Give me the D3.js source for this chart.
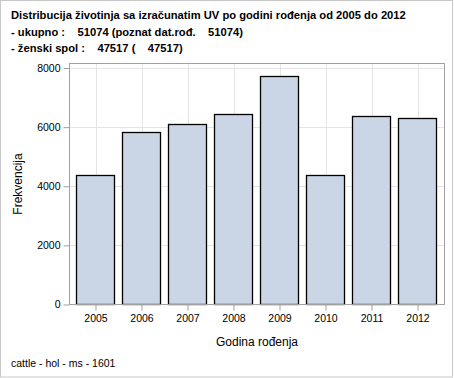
<!DOCTYPE html>
<html>
<head>
<meta charset="utf-8">
<script src="https://cdn.jsdelivr.net/npm/d3@7"></script>
<style>
  body { margin: 0; background: #fff; }
  text { font-family: "Liberation Sans", Arial, sans-serif; fill: #000; }
</style>
</head>
<body>
<div id="chart"></div>
<script>
var titleLines = [
    "Distribucija životinja sa izračunatim UV po godini rođenja od 2005 do 2012",
    "- ukupno :    51074 (poznat dat.rođ.    51074)",
    "- ženski spol :    47517 (    47517)"
];
var years = ["2005", "2006", "2007", "2008", "2009", "2010", "2011", "2012"];
var counts = [4375, 5830, 6100, 6440, 7735, 4375, 6360, 6302];
var yTicks = [0, 2000, 4000, 6000, 8000];
var xTitle = "Godina rođenja";
var yTitle = "Frekvencija";
var footnote = "cattle - hol - ms - 1601";

var W = 454, H = 378;
var plot = { left: 69.5, right: 444.5, top: 63.5, bottom: 304.5 };

var svg = d3.select("#chart").append("svg")
    .attr("width", W)
    .attr("height", H);

// outer border
svg.append("rect")
    .attr("x", 0.5).attr("y", 0.5)
    .attr("width", 452).attr("height", 376.5)
    .attr("fill", "#fff")
    .attr("stroke", "#c8c8c8");

// titles
svg.selectAll(".title")
    .data(titleLines)
    .enter()
    .append("text")
    .attr("class", "title")
    .attr("x", 11)
    .attr("y", function (d, i) { return 19 + i * 16.5; })
    .attr("font-size", "11.2px")
    .attr("font-weight", "bold")
    .style("white-space", "pre")
    .attr("xml:space", "preserve")
    .text(function (d) { return d; });

var x = d3.scaleBand()
    .domain(years)
    .range([plot.left, plot.right])
    .paddingInner(0.152)
    .paddingOuter(0.152);

var y = d3.scaleLinear()
    .domain([0, 8000])
    .range([plot.bottom, 68]);

// grid
var grid = svg.append("g");
grid.selectAll(".hg")
    .data(yTicks.filter(function (d) { return d > 0; }))
    .enter()
    .append("line")
    .attr("x1", plot.left).attr("x2", plot.right)
    .attr("y1", function (d) { return Math.round(y(d)) + 0.5; })
    .attr("y2", function (d) { return Math.round(y(d)) + 0.5; })
    .attr("stroke", "#e4e4e4");
grid.selectAll(".vg")
    .data(years)
    .enter()
    .append("line")
    .attr("x1", function (d) { return Math.round(x(d) + x.bandwidth() / 2) + 0.5; })
    .attr("x2", function (d) { return Math.round(x(d) + x.bandwidth() / 2) + 0.5; })
    .attr("y1", plot.top).attr("y2", plot.bottom)
    .attr("stroke", "#e4e4e4");

// bars
svg.selectAll(".bar")
    .data(counts)
    .enter()
    .append("rect")
    .attr("class", "bar")
    .attr("x", function (d, i) { return Math.round(x(years[i])) + 0.5; })
    .attr("y", function (d) { return Math.round(y(d)) + 0.5; })
    .attr("width", Math.round(x.bandwidth()) - 1)
    .attr("height", function (d) { return plot.bottom - Math.round(y(d)) - 0.5; })
    .attr("fill", "#cad5e5")
    .attr("stroke", "#000")
    .attr("stroke-width", 1.3);

// frame
svg.append("rect")
    .attr("x", plot.left).attr("y", plot.top)
    .attr("width", plot.right - plot.left)
    .attr("height", plot.bottom - plot.top)
    .attr("fill", "none")
    .attr("stroke", "#a0a0a0");

// y axis
var yAxis = svg.append("g")
    .attr("transform", "translate(" + plot.left + ",0)")
    .call(d3.axisLeft(y).tickValues(yTicks).tickSize(6).tickPadding(3).tickFormat(d3.format("d")));
yAxis.select(".domain").remove();
yAxis.selectAll("line").attr("stroke", "#a0a0a0");
yAxis.selectAll("text").attr("font-size", "10.5px").attr("font-family", null);

// x axis
var xAxis = svg.append("g")
    .attr("transform", "translate(0," + plot.bottom + ")")
    .call(d3.axisBottom(x).tickSize(6).tickPadding(4));
xAxis.select(".domain").remove();
xAxis.selectAll("line").attr("stroke", "#a0a0a0");
xAxis.selectAll("text").attr("font-size", "10.5px").attr("font-family", null);

// axis titles
svg.append("text")
    .attr("x", (plot.left + plot.right) / 2)
    .attr("y", 346)
    .attr("text-anchor", "middle")
    .attr("font-size", "12px")
    .text(xTitle);

svg.append("text")
    .attr("transform", "translate(22," + ((plot.top + plot.bottom) / 2) + ") rotate(-90)")
    .attr("text-anchor", "middle")
    .attr("font-size", "12px")
    .text(yTitle);

// footnote
svg.append("text")
    .attr("x", 11)
    .attr("y", 367)
    .attr("font-size", "10.5px")
    .text(footnote);
</script>
</body>
</html>
